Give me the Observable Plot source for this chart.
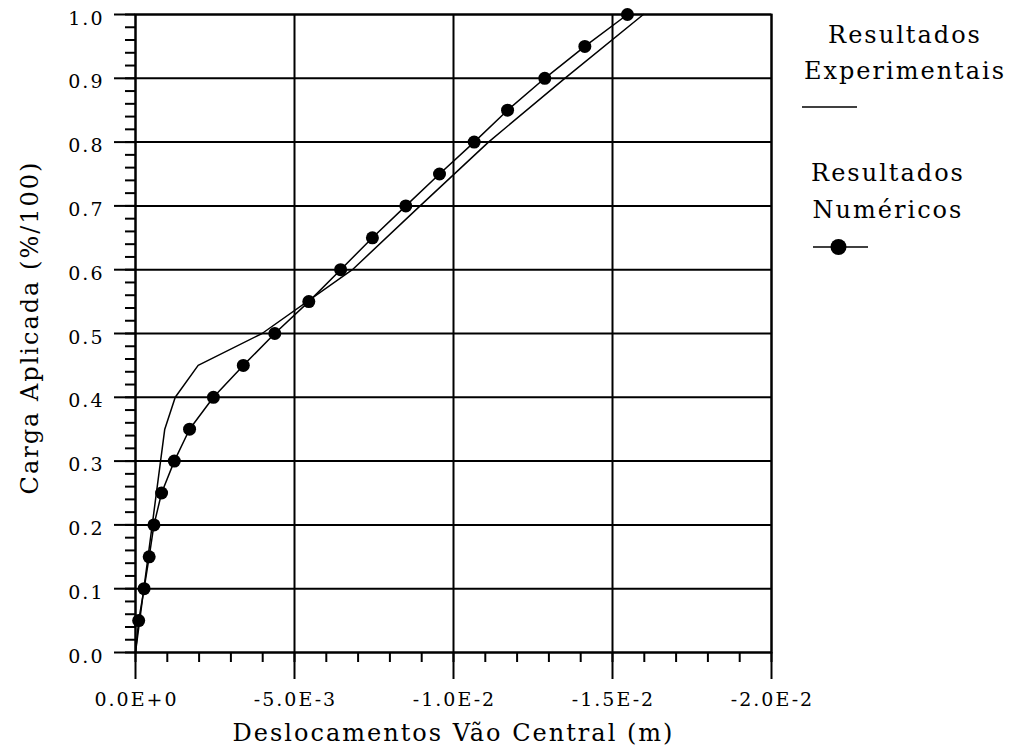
<!DOCTYPE html>
<html><head><meta charset="utf-8">
<script src="https://cdn.jsdelivr.net/npm/d3@7"></script>
<script src="https://cdn.jsdelivr.net/npm/@observablehq/plot@0.6"></script>
<style>
body{margin:0;background:#fff;}
#wrap{position:relative;width:1013px;height:753px;}
#wrap svg text{letter-spacing:2px;}
</style></head><body><div id="wrap"></div>
<script>
// Numerical results (load fraction, mid-span displacement in m)
const numLoad = [0, 0.05, 0.10, 0.15, 0.20, 0.25, 0.30, 0.35, 0.40, 0.45, 0.50, 0.55, 0.60, 0.65, 0.70, 0.75, 0.80, 0.85, 0.90, 0.95, 1.00];
const numDisp = [0, -0.10e-3, -0.27e-3, -0.43e-3, -0.58e-3, -0.82e-3, -1.22e-3, -1.70e-3, -2.45e-3, -3.39e-3, -4.38e-3, -5.45e-3, -6.45e-3, -7.45e-3, -8.50e-3, -9.56e-3, -10.65e-3, -11.70e-3, -12.87e-3, -14.13e-3, -15.47e-3];
// Experimental results
const expLoad = [0, 0.35, 0.40, 0.45, 0.50, 0.60, 0.70, 0.80, 0.90, 1.00];
const expDisp = [0, -0.92e-3, -1.25e-3, -1.97e-3, -3.98e-3, -6.82e-3, -8.95e-3, -11.10e-3, -13.50e-3, -15.97e-3];
// Axes
const xMajor = [0, -0.005, -0.010, -0.015, -0.020];
const xTickLabels = ["0.0E+0", "-5.0E-3", "-1.0E-2", "-1.5E-2", "-2.0E-2"];
const xMinor = d3.range(0, 21).map(i => -i * 0.001);
const yMajor = [0, 0.1, 0.2, 0.3, 0.4, 0.5, 0.6, 0.7, 0.8, 0.9, 1.0];
const yTickLabels = ["0.0", "0.1", "0.2", "0.3", "0.4", "0.5", "0.6", "0.7", "0.8", "0.9", "1.0"];
const yMinor = d3.range(0, 51).map(i => i * 0.02);
const xTitle = "Deslocamentos Vão Central (m)";
const yTitle = "Carga Aplicada (%/100)";
const legendItems = [["Resultados", "Experimentais"], ["Resultados", "Numéricos"]];

const numTable = numLoad.map((p, i) => ({p, d: numDisp[i]}));
const expTable = expLoad.map((p, i) => ({p, d: expDisp[i]}));

const chart = Plot.plot({
  width: 1013, height: 753,
  marginLeft: 135, marginRight: 242, marginTop: 14, marginBottom: 101,
  style: {fontFamily: "DejaVu Serif", fontSize: "19px", color: "#000", background: "#fff", overflow: "visible"},
  x: {domain: [0, -0.02], label: null},
  y: {domain: [0, 1], label: null},
  marks: [
    Plot.gridX({ticks: xMajor, stroke: "#000", strokeOpacity: 1, strokeWidth: 2}),
    Plot.gridY({ticks: yMajor, stroke: "#000", strokeOpacity: 1, strokeWidth: 2}),
    Plot.frame({stroke: "#000", strokeWidth: 2}),
    Plot.axisX({ticks: xMinor, tickSize: 10, text: null, strokeWidth: 2, label: null}),
    Plot.axisX({ticks: xMajor, tickSize: 27, text: null, strokeWidth: 2, label: null}),
    Plot.text(xMajor, {x: d => d, frameAnchor: "bottom", dy: 53, dx: 1, textAnchor: "middle",
      text: (d, i) => xTickLabels[i]}),
    Plot.axisY({ticks: yMinor, tickSize: 10, text: null, strokeWidth: 2, label: null}),
    Plot.axisY({ticks: yMajor, tickSize: 21, text: null, strokeWidth: 2, label: null}),
    Plot.text(yMajor, {y: d => d, frameAnchor: "left", dx: -31, dy: 4, textAnchor: "end",
      text: (d, i) => yTickLabels[i]}),
    Plot.text([xTitle], {frameAnchor: "bottom", dy: 88, fontSize: 24, textAnchor: "middle", text: d => d}),
    Plot.text([yTitle], {frameAnchor: "left", dx: -105, dy: -6, rotate: -90, fontSize: 24, textAnchor: "middle", text: d => d}),
    Plot.line(expTable, {x: "d", y: "p", stroke: "#000", strokeWidth: 1.5}),
    Plot.line(numTable, {x: "d", y: "p", stroke: "#000", strokeWidth: 1.5}),
    Plot.dot(numTable.filter(r => r.p > 0), {x: "d", y: "p", r: 6.5, fill: "#000", stroke: "none"})
  ]
});
document.getElementById("wrap").appendChild(chart);

// Legend (to the right of the plot)
const svg = d3.select(chart);
const lg = svg.append("g").attr("font-family", "DejaVu Serif").attr("font-size", 24).attr("fill", "#000");
const legendPos = [{cx: 905, y1: 35, y2: 71, ly: 107, lx1: 802, lx2: 857, dot: false},
                   {cx: 888, y1: 173, y2: 210, ly: 247, lx1: 813, lx2: 868, dot: true}];
legendItems.forEach((lines, i) => {
  const p = legendPos[i];
  lg.append("text").attr("x", p.cx).attr("y", p.y1).attr("text-anchor", "middle").attr("dy", "0.35em").text(lines[0]);
  lg.append("text").attr("x", p.cx).attr("y", p.y2).attr("text-anchor", "middle").attr("dy", "0.35em").text(lines[1]);
  lg.append("line").attr("x1", p.lx1).attr("x2", p.lx2).attr("y1", p.ly).attr("y2", p.ly).attr("stroke", "#000").attr("stroke-width", 1.5);
  if (p.dot) lg.append("circle").attr("cx", (p.lx1 + p.lx2) / 2 - 2).attr("cy", p.ly).attr("r", 8).attr("fill", "#000");
});
</script>
</body></html>
